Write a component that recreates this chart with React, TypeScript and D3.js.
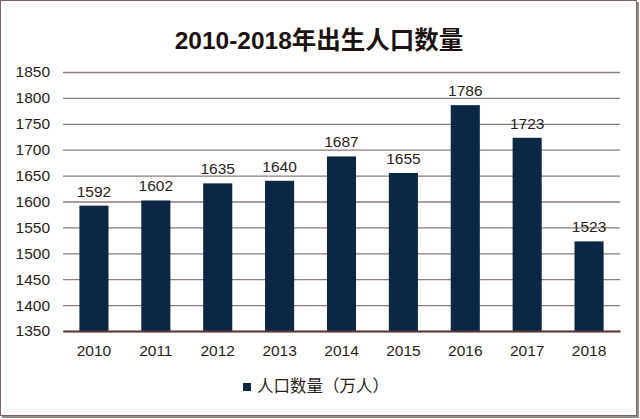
import { useRef, useEffect } from "react";
import * as d3 from "d3";

const years = ["2010", "2011", "2012", "2013", "2014", "2015", "2016", "2017", "2018"];
const births = [1592, 1602, 1635, 1640, 1687, 1655, 1786, 1723, 1523];
const yTicks = [1350, 1400, 1450, 1500, 1550, 1600, 1650, 1700, 1750, 1800, 1850];

const TITLE = "2010-2018年出生人口数量";
const LEGEND = "人口数量（万人）";

export default function App() {
  const svgRef = useRef<SVGSVGElement>(null);

  useEffect(() => {
    if (!svgRef.current) return;
    const width = 640;
    const height = 419;
    const margin = { top: 72, right: 20, bottom: 88, left: 63 };
    const innerWidth = width - margin.left - margin.right;
    const innerHeight = height - margin.top - margin.bottom;

    const svg = d3.select(svgRef.current).attr("width", width).attr("height", height);
    svg.selectAll("*").remove();

    // frame with a slight shadow on right/bottom
    svg.append("rect")
      .attr("x", 2).attr("y", 2).attr("width", width - 3).attr("height", height - 3)
      .attr("fill", "#9a8a86");
    svg.append("rect")
      .attr("x", 0.5).attr("y", 0.5).attr("width", width - 4).attr("height", height - 4)
      .attr("fill", "#fff").attr("stroke", "#7d6461").attr("stroke-width", 1);

    svg.append("text")
      .attr("x", 319)
      .attr("y", 49)
      .attr("text-anchor", "middle")
      .attr("font-family", "'Liberation Sans', 'Noto Sans CJK SC', sans-serif")
      .attr("font-weight", "bold")
      .attr("font-size", 24.5)
      .attr("fill", "#1c1210")
      .text(TITLE);

    const g = svg.append("g").attr("transform", `translate(${margin.left},${margin.top})`);

    const x = d3.scaleBand<string>().domain(years).range([0, innerWidth]).paddingInner(0.53).paddingOuter(0.265);
    const y = d3.scaleLinear().domain([1350, 1850]).range([innerHeight, 0]);

    const numFont = "'Liberation Sans', Arial, sans-serif";

    // grid
    g.append("g")
      .call(d3.axisLeft(y).tickValues(yTicks).tickSize(-innerWidth).tickFormat(() => ""))
      .call((a) => a.select(".domain").remove())
      .call((a) => a.selectAll("line").attr("stroke", "#8c7c7a").attr("stroke-width", 1.3));

    // y labels
    g.append("g")
      .call(d3.axisLeft(y).tickValues(yTicks).tickSize(0).tickPadding(13).tickFormat(d3.format("d")))
      .call((a) => a.select(".domain").remove())
      .call((a) => a.selectAll("text")
        .attr("font-family", numFont)
        .attr("font-size", 15.5)
        .attr("fill", "#2a1c1a"));

    // bars
    g.selectAll(".bar")
      .data(births)
      .join("rect")
      .attr("class", "bar")
      .attr("x", (_, i) => x(years[i])!)
      .attr("width", x.bandwidth())
      .attr("y", (d) => y(d))
      .attr("height", (d) => innerHeight - y(d))
      .attr("fill", "#0c2744");

    // value labels
    g.selectAll(".val")
      .data(births)
      .join("text")
      .attr("class", "val")
      .attr("x", (_, i) => x(years[i])! + x.bandwidth() / 2)
      .attr("y", (d) => y(d) - 9)
      .attr("text-anchor", "middle")
      .attr("font-family", numFont)
      .attr("font-size", 15.5)
      .attr("fill", "#2a1c1a")
      .text((d) => d);

    // x axis
    g.append("g")
      .attr("transform", `translate(0,${innerHeight})`)
      .call(d3.axisBottom(x).tickSize(0).tickPadding(14))
      .call((a) => a.select(".domain").attr("stroke", "#5a3a34").attr("stroke-width", 2))
      .call((a) => a.selectAll("text")
        .attr("font-family", numFont)
        .attr("font-size", 15.5)
        .attr("fill", "#2a1c1a"));

    // legend
    const lg = svg.append("g").attr("transform", "translate(243,383)");
    lg.append("rect").attr("width", 8).attr("height", 8).attr("fill", "#0c2744");
    lg.append("text")
      .attr("x", 14)
      .attr("y", 9)
      .attr("font-family", "'Noto Sans CJK SC', sans-serif")
      .attr("font-size", 16.5)
      .attr("fill", "#2a1c1a")
      .text(LEGEND);
  }, []);

  return (
    <svg ref={svgRef} style={{ position: "absolute", left: 0, top: 0, display: "block" }} />
  );
}
